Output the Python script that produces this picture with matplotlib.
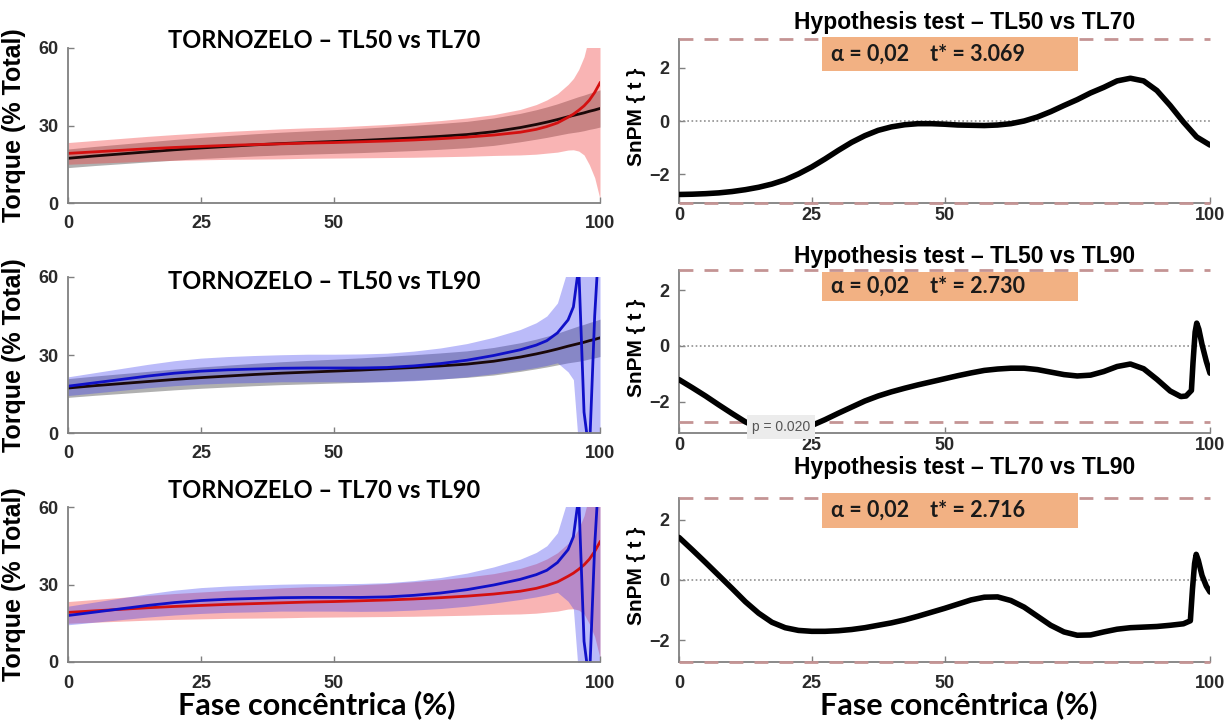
import matplotlib
matplotlib.use("Agg")
import matplotlib.pyplot as plt
from matplotlib.patches import Rectangle

# eixo x comum (fase concentrica, %)
fase = [0, 5, 10, 15, 20, 25, 30, 35, 40, 45, 50, 55, 60, 65, 70, 75, 80, 85, 88, 90,
        92, 94, 95, 96, 97, 98, 99, 100]

# medias e desvios (torque % total)
tl50_media = [17.3, 18.2, 19.0, 19.8, 20.6, 21.3, 21.9, 22.5, 23.0, 23.4, 23.8, 24.2, 24.7, 25.2,
              25.8, 26.5, 27.6, 29.2, 30.4, 31.3, 32.3, 33.4, 33.9, 34.4, 34.9, 35.5, 36.0, 36.6]
tl50_dp = [3.6, 3.7, 3.8, 3.9, 4.0, 4.1, 4.2, 4.3, 4.4, 4.5, 4.6, 4.7, 4.8, 4.9,
           5.0, 5.1, 5.3, 5.5, 5.7, 5.9, 6.1, 6.4, 6.6, 6.8, 6.9, 7.0, 7.1, 7.2]
tl70_media = [19.2, 19.8, 20.4, 21.0, 21.5, 21.9, 22.3, 22.6, 22.9, 23.2, 23.4, 23.7, 24.0, 24.4,
              24.9, 25.5, 26.3, 27.4, 28.5, 29.6, 31.0, 33.2, 34.4, 35.9, 37.6, 39.8, 42.8, 46.5]
tl70_dp = [4.2, 4.4, 4.6, 4.8, 5.0, 5.2, 5.4, 5.6, 5.8, 5.9, 6.0, 6.2, 6.4, 6.7,
           7.0, 7.4, 7.9, 8.8, 9.6, 10.3, 11.3, 12.7, 13.8, 15.8, 19.0, 25.0, 33.0, 45.0]
tl90_media = [18.0, 19.3, 20.6, 21.9, 23.0, 23.8, 24.3, 24.6, 24.9, 25.0, 25.0, 25.0, 25.2, 25.8,
              26.7, 28.0, 29.8, 32.0, 33.8, 35.5, 38.5, 43.5, 48.5, 64.0, 8.0, -8.0, 45.0, 80.0]
tl90_dp = [3.6, 3.9, 4.2, 4.5, 4.8, 5.0, 5.1, 5.2, 5.2, 5.3, 5.3, 5.4, 5.5, 5.7,
           6.0, 6.4, 7.0, 7.8, 8.6, 9.5, 11.5, 20.0, 28.0, 70.0, 90.0, 90.0, 90.0, 90.0]

# curvas SnPM{t}
spm1_x = [0, 2.5, 5, 7.5, 10, 12.5, 15, 17.5, 20, 22.5, 25, 27.5, 30, 32.5, 35, 37.5, 40, 42.5,
          45, 47.5, 50, 52.5, 55, 57.5, 60, 62.5, 65, 67.5, 70, 72.5, 75, 77.5, 80, 82.5, 85,
          87.5, 90, 92.5, 95, 97.5, 100]
spm1_t = [-2.75, -2.74, -2.72, -2.69, -2.64, -2.57, -2.48, -2.36, -2.2, -1.98, -1.72, -1.42, -1.1,
          -0.8, -0.55, -0.35, -0.22, -0.14, -0.1, -0.1, -0.12, -0.15, -0.16, -0.17, -0.15, -0.1,
          0.0, 0.15, 0.35, 0.58, 0.8, 1.05, 1.26, 1.5, 1.6, 1.5, 1.14, 0.58, -0.04, -0.6, -0.9]
spm2_x = [0, 2.5, 5, 7.5, 10, 12.5, 15, 17.5, 20, 22.5, 25, 27.5, 30, 32.5, 35, 37.5, 40, 42.5,
          45, 47.5, 50, 52.5, 55, 57.5, 60, 62.5, 65, 67.5, 70, 72.5, 75, 77.5, 80, 82.5, 85,
          87.5, 90, 92.5, 94.5, 95.5, 96.5, 96.8, 97.2, 97.5, 97.9, 98.5, 99.3, 100]
spm2_t = [-1.21, -1.5, -1.8, -2.12, -2.43, -2.73, -2.95, -3.05, -3.06, -2.98, -2.86, -2.65, -2.42,
          -2.2, -1.98, -1.8, -1.65, -1.52, -1.4, -1.29, -1.18, -1.07, -0.97, -0.88, -0.83, -0.8,
          -0.8, -0.85, -0.94, -1.03, -1.08, -1.05, -0.92, -0.74, -0.65, -0.82, -1.2, -1.62, -1.82,
          -1.8, -1.6, -0.6, 0.5, 0.82, 0.6, 0.05, -0.55, -0.98]
spm3_x = [0, 2.5, 5, 7.5, 10, 12.5, 15, 17.5, 20, 22.5, 25, 27.5, 30, 32.5, 35, 37.5, 40, 42.5,
          45, 47.5, 50, 52.5, 55, 57.5, 60, 62.5, 65, 67.5, 70, 72.5, 75, 77.5, 80, 82.5, 85,
          87.5, 90, 92.5, 95, 96.3, 96.7, 97.1, 97.4, 97.8, 98.5, 99.3, 100]
spm3_t = [1.41, 1.0, 0.58, 0.15, -0.28, -0.72, -1.1, -1.4, -1.58, -1.67, -1.7, -1.7, -1.68, -1.64,
          -1.58, -1.5, -1.42, -1.32, -1.2, -1.07, -0.94, -0.8, -0.66, -0.57, -0.56, -0.68, -0.9,
          -1.2, -1.5, -1.72, -1.83, -1.82, -1.72, -1.63, -1.58, -1.56, -1.54, -1.5, -1.45, -1.35,
          -0.3, 0.55, 0.85, 0.65, 0.15, -0.2, -0.4]

tstar = [3.069, 2.730, 2.716]
ylim_spm = [(-3.069, 3.069), (-3.13, 2.730), (-2.716, 2.716)]
titulos_esq = ["TORNOZELO \u2013 TL50 vs TL70", "TORNOZELO \u2013 TL50 vs TL90",
               "TORNOZELO \u2013 TL70 vs TL90"]
titulos_dir = ["Hypothesis test \u2013 TL50 vs TL70", "Hypothesis test \u2013 TL50 vs TL90",
               "Hypothesis test \u2013 TL70 vs TL90"]

ARIAL = ["Liberation Sans", "DejaVu Sans"]
CALIBRI = ["Lato", "DejaVu Sans"]

W, H = 1231, 727
fig = plt.figure(figsize=(12.31, 7.27), dpi=100)


def px_ax(x0, y0, x1, y1):
    # caixa em pixels -> fracao da figura
    return [x0 / W, 1 - y1 / H, (x1 - x0) / W, (y1 - y0) / H]


cinza = "#808080"
cor = {
    "tl50": ("#1a0808", "#505050", 0.45),
    "tl70": ("#d41010", "#f03c3c", 0.38),
    "tl90": ("#1010c8", "#3c3cf0", 0.35),
}
dados = {"tl50": (tl50_media, tl50_dp), "tl70": (tl70_media, tl70_dp), "tl90": (tl90_media, tl90_dp)}
pares = [("tl50", "tl70"), ("tl50", "tl90"), ("tl70", "tl90")]

linhas_esq = [(48, 203), (277, 433), (507, 662)]
linhas_dir = [(39, 203), (270, 433), (498, 662)]
titulo_esq_y = [41, 282, 490]
titulo_dir_y = [22, 256, 467]
caixa_y = [(37, 71), (272, 301), (493, 528)]
pad_x_dir = [3, 3, 9]
spm_curvas = [(spm1_x, spm1_t), (spm2_x, spm2_t), (spm3_x, spm3_t)]


def estilo(ax, padx):
    for s in ["top", "right"]:
        ax.spines[s].set_visible(False)
    for s in ["left", "bottom"]:
        ax.spines[s].set_color(cinza)
        ax.spines[s].set_linewidth(1.3)
    ax.tick_params(direction="in", length=4, color=cinza, width=1)
    ax.tick_params(axis="x", pad=padx)
    ax.tick_params(axis="y", pad=7)
    for lab in ax.get_xticklabels() + ax.get_yticklabels():
        lab.set_family(ARIAL)
        lab.set_fontweight("bold")
        lab.set_fontsize(13)
        lab.set_color("#2a2a2a")


for i in range(3):
    # painel esquerdo: media +- dp
    y0, y1 = linhas_esq[i]
    ax = fig.add_axes(px_ax(68, y0, 600, y1))
    for g in pares[i]:
        media, dp = dados[g]
        c_lin, c_band, alfa = cor[g]
        inf = [m - d for m, d in zip(media, dp)]
        sup = [m + d for m, d in zip(media, dp)]
        ax.fill_between(fase, inf, sup, color=c_band, alpha=alfa, lw=0)
        ax.plot(fase, media, color=c_lin, lw=2)
    ax.set_xlim(0, 100)
    ax.set_ylim(0, 60)
    ax.set_xticks([0, 25, 50, 100])
    ax.set_yticks([0, 30, 60])
    estilo(ax, 9)
    fig.text(324 / W, 1 - titulo_esq_y[i] / H, titulos_esq[i], ha="center", va="center",
             family=CALIBRI, fontweight="bold", fontsize=17)
    fig.text(14 / W, 1 - (y0 + y1) / 2 / H, "Torque (% Total)", rotation=90, ha="center",
             va="center", family=ARIAL, fontweight="bold", fontsize=18)

    # painel direito: SnPM{t}
    y0, y1 = linhas_dir[i]
    ax = fig.add_axes(px_ax(679, y0, 1210, y1))
    ts = tstar[i]
    for s in (ts, -ts):
        ax.axhline(s, color="#c49494", lw=2, ls=(0, (5, 4)), clip_on=False, zorder=4)
    ax.axhline(0, color="#909090", lw=1.2, ls=(0, (1, 1.5)))
    sx, st = spm_curvas[i]
    ax.plot(sx, st, color="black", lw=4, solid_capstyle="round", zorder=5)
    ax.set_xlim(0, 100)
    ax.set_ylim(*ylim_spm[i])
    ax.set_xticks([0, 25, 50, 100])
    ax.set_yticks([-2, 0, 2])
    estilo(ax, pad_x_dir[i])
    fig.text(965 / W, 1 - titulo_dir_y[i] / H, titulos_dir[i], ha="center", va="center",
             family=ARIAL, fontweight="bold", fontsize=16.5)
    fig.text(637 / W, 1 - ((y0 + y1) / 2 - 4) / H, "SnPM { t }", rotation=90, ha="center",
             va="center", family=ARIAL, fontweight="bold", fontsize=15)

    # caixa laranja com alfa e t*
    cy0, cy1 = caixa_y[i]
    fig.patches.append(Rectangle((822 / W, 1 - cy1 / H), 256 / W, (cy1 - cy0) / H,
                                 transform=fig.transFigure, facecolor="#f2b183",
                                 edgecolor="none", zorder=5))
    fig.text(831 / W, 1 - (cy0 + cy1) / 2 / H,
             "\u03b1 = 0,02    t* = %.3f" % ts, ha="left", va="center",
             family=CALIBRI, fontweight="bold", fontsize=15.5, color="#1a1a1a", zorder=6)

    if i == 1:
        ax.text(19.2, -2.91, "p = 0.020", ha="center", va="center", fontsize=10,
                family=ARIAL, color="#555555", zorder=10,
                bbox=dict(boxstyle="square,pad=0.35", facecolor="#ececec", edgecolor="none"))

for xc in [317, 959]:
    fig.text(xc / W, 1 - 705 / H, "Fase conc\u00eantrica (%)", ha="center", va="center",
             family=CALIBRI, fontweight="bold", fontsize=22)

fig.savefig("out.png", dpi=100)
